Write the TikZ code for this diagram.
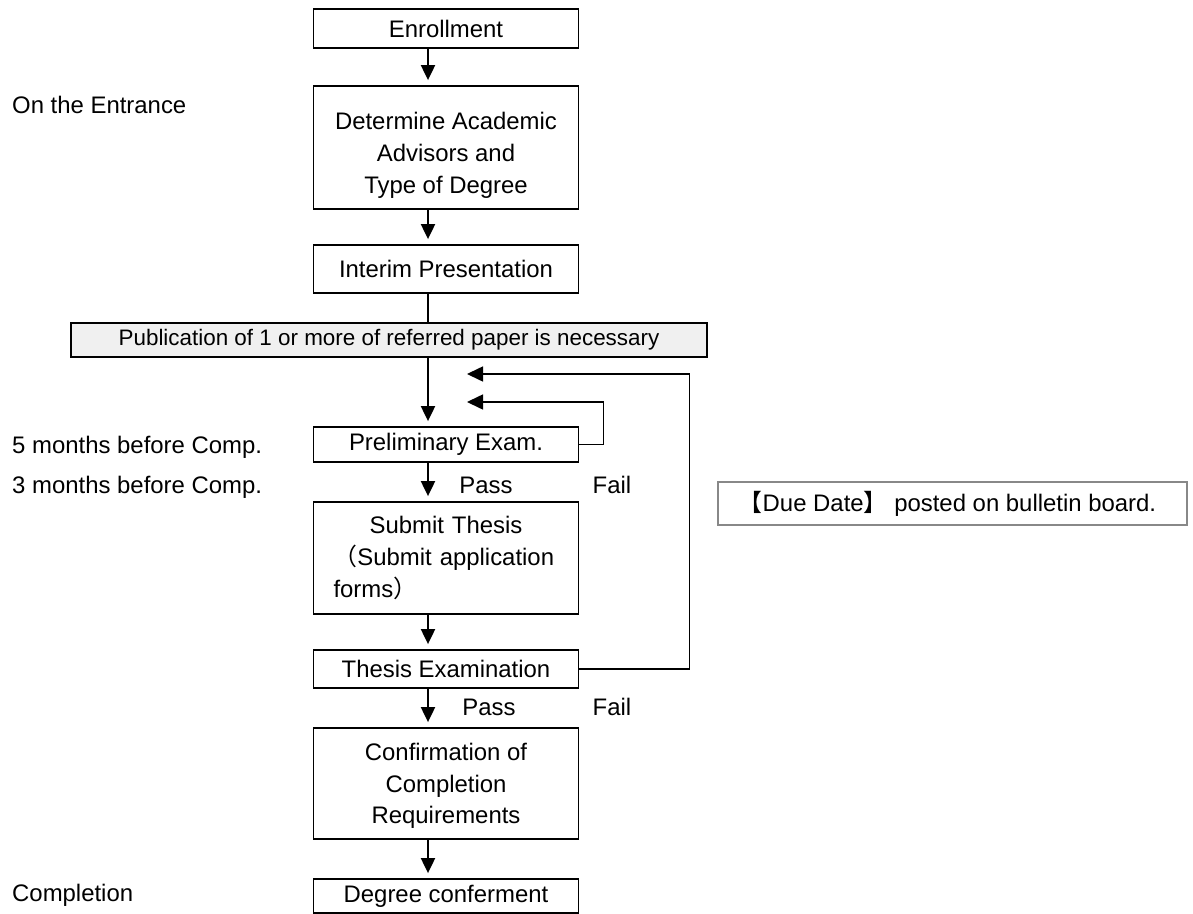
\documentclass[tikz,border=0pt]{standalone}
\usepackage{fontspec}
\setmainfont{Liberation Sans}
\newfontfamily\cjk{Noto Sans CJK JP}
\usetikzlibrary{arrows.meta}
\definecolor{bannerfill}{RGB}{240,240,240}
\definecolor{duegray}{RGB}{136,136,136}
\begin{document}
\begin{tikzpicture}[x=1bp,y=-1bp,
  every node/.style={font=\fontsize{24}{32}\selectfont, inner sep=0pt},
  flowbox/.style={draw=black, line width=1.8bp, minimum width=265bp, align=center},
  arr/.style={line width=2bp, -{Triangle[width=14bp,length=15bp]}, shorten >=5bp},
  plainline/.style={line width=2bp},
  retarr/.style={line width=1.6bp, -{Triangle[width=15bp,length=16bp]}},
  lbl/.style={anchor=west},
  passfail/.style={anchor=center},
]
\useasboundingbox (0,0) rectangle (1193,914);

% main column
\node[flowbox, minimum height=39bp] (enroll) at (446,28.5) {Enrollment};
\node[flowbox, minimum height=123bp] (determine) at (446,147.5) {\rule{0pt}{33bp}Determine Academic\\Advisors and\\Type of Degree};
\node[flowbox, minimum height=48bp] (interim) at (446,269) {Interim Presentation};
\node[draw=black, line width=1.8bp, fill=bannerfill, minimum width=636bp, minimum height=34bp,
      font=\fontsize{22.5}{26}\selectfont] (banner) at (389,340) {Publication of 1 or more of referred paper is necessary};
\node[flowbox, minimum height=35bp] (prelim) at (446,444.5) {Preliminary Exam.};
\node[draw=black, line width=1.8bp, minimum width=265bp, minimum height=112bp,
      inner xsep=20bp, text width=225bp, align=left] (submit) at (446,558)
      {\makebox[\linewidth][c]{Submit Thesis}\\{\cjk （}Submit application\\forms{\cjk ）}};
\node[flowbox, minimum height=38bp] (thesis) at (446,669) {Thesis Examination};
\node[flowbox, minimum height=111bp] (confirm) at (446,783.5) {\rule{0pt}{22bp}Confirmation of\\Completion\\Requirements};
\node[flowbox, minimum height=34bp] (degree) at (446,896) {Degree conferment};

% side note
\node[draw=duegray, line width=1.2bp, minimum width=469bp, minimum height=43bp] (due) at (952.5,503.5)
  {{\cjk 【}Due Date{\cjk 】} posted on bulletin board.\hspace*{10bp}};

% left labels
\node[lbl] (lentr) at (12,105) {On the Entrance};
\node[lbl] (l5) at (12,447) {5 months before Comp.};
\node[lbl] (l3) at (12,487) {3 months before Comp.};
\node[lbl] (lcomp) at (12,895) {Completion};

% pass / fail labels
\node[passfail] (pass1) at (486,485) {Pass};
\node[passfail] (fail1) at (612,485) {Fail};
\node[passfail] (pass2) at (489,707) {Pass};
\node[passfail] (fail2) at (612,707) {Fail};

% connectors
\coordinate (col) at (428,0);
\draw[arr] (enroll.south -| col) -- (determine.north -| col);
\draw[arr] (determine.south -| col) -- (interim.north -| col);
\draw[plainline] (interim.south -| col) -- (banner.north -| col);
\draw[arr] (banner.south -| col) -- (prelim.north -| col);
\draw[arr] (prelim.south -| col) -- (submit.north -| col);
\draw[arr] (submit.south -| col) -- (thesis.north -| col);
\draw[arr] (thesis.south -| col) -- (confirm.north -| col);
\draw[arr] (confirm.south -| col) -- (degree.north -| col);

% return loops
\coordinate (ret1) at (467,402);
\coordinate (ret2) at (467,374);
\draw[retarr] (prelim.east) -- ++(24,0) |- (ret1);
\draw[retarr] (thesis.east) -- ++(110,0) |- (ret2);
\end{tikzpicture}
\end{document}
